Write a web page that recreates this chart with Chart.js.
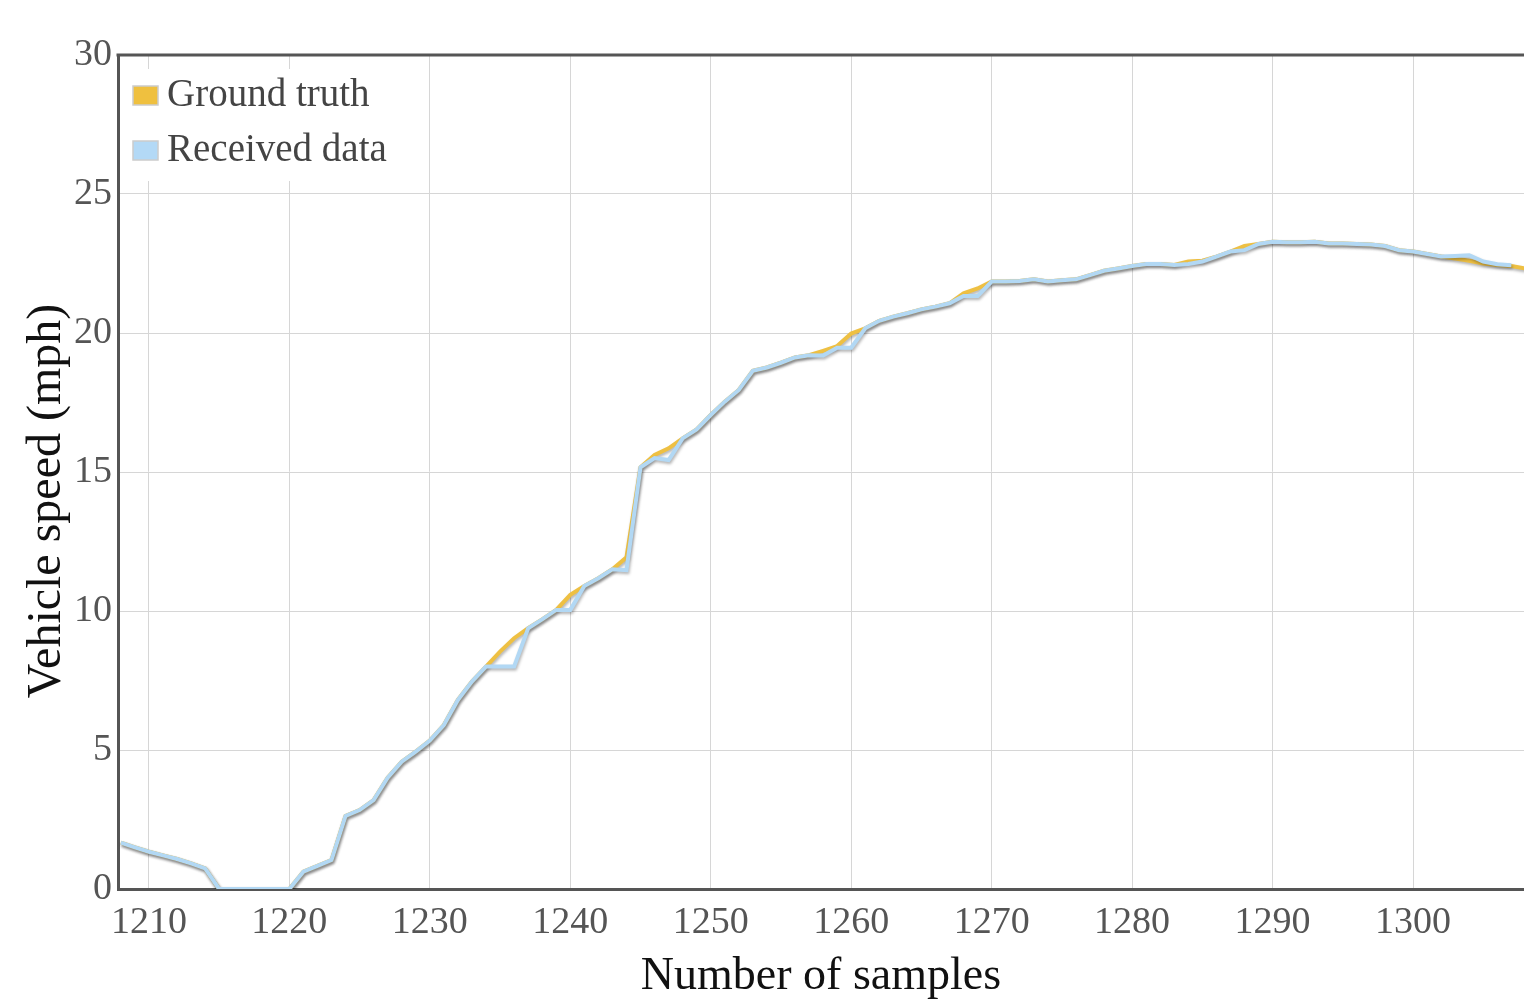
<!DOCTYPE html>
<html>
<head>
<meta charset="utf-8">
<script src="https://cdn.jsdelivr.net/npm/chart.js@4.4.1/dist/chart.umd.min.js"></script>
<style>
  body { margin: 0; background: #fff; }
  #wrap { width: 1524px; height: 1005px; }
</style>
</head>
<body>
<div id="wrap"><canvas id="speedChart" width="1524" height="1005"></canvas></div>
<script>
// sample numbers on the x axis
const samples = [
  1208, 1209, 1210, 1211, 1212, 1213, 1214, 1215, 1216, 1217,
  1218, 1219, 1220, 1221, 1222, 1223, 1224, 1225, 1226, 1227,
  1228, 1229, 1230, 1231, 1232, 1233, 1234, 1235, 1236, 1237,
  1238, 1239, 1240, 1241, 1242, 1243, 1244, 1245, 1246, 1247,
  1248, 1249, 1250, 1251, 1252, 1253, 1254, 1255, 1256, 1257,
  1258, 1259, 1260, 1261, 1262, 1263, 1264, 1265, 1266, 1267,
  1268, 1269, 1270, 1271, 1272, 1273, 1274, 1275, 1276, 1277,
  1278, 1279, 1280, 1281, 1282, 1283, 1284, 1285, 1286, 1287,
  1288, 1289, 1290, 1291, 1292, 1293, 1294, 1295, 1296, 1297,
  1298, 1299, 1300, 1301, 1302, 1303, 1304, 1305, 1306, 1307,
  1308
];

// ground truth speed (mph)
const groundTruth = [
  1.67, 1.5, 1.34, 1.21, 1.08, 0.92, 0.74, 0, 0, 0,
  0, 0, 0, 0.62, 0.83, 1.04, 2.63, 2.84, 3.2, 4.0,
  4.58, 4.94, 5.34, 5.9, 6.8, 7.46, 8.0, 8.54, 9.02, 9.38,
  9.7, 10.04, 10.58, 10.9, 11.18, 11.5, 11.93, 15.17, 15.61, 15.85,
  16.21, 16.53, 17.05, 17.53, 17.95, 18.64, 18.76, 18.93, 19.12, 19.2,
  19.36, 19.53, 19.98, 20.17, 20.44, 20.59, 20.71, 20.85, 20.95, 21.07,
  21.43, 21.6, 21.85, 21.85, 21.87, 21.93, 21.85, 21.9, 21.93, 22.08,
  22.24, 22.32, 22.41, 22.48, 22.48, 22.45, 22.57, 22.6, 22.75, 22.93,
  23.13, 23.2, 23.28, 23.26, 23.26, 23.28, 23.22, 23.22, 23.2, 23.18,
  23.13, 22.98, 22.93, 22.84, 22.75, 22.68, 22.6, 22.5, 22.45, 22.41,
  22.32
];

// received speed (mph)
const receivedData = [
  1.67, 1.5, 1.34, 1.21, 1.08, 0.92, 0.74, 0, 0, 0,
  0, 0, 0, 0.62, 0.83, 1.04, 2.63, 2.84, 3.2, 4.0,
  4.58, 4.94, 5.34, 5.9, 6.8, 7.46, 8.0, 8.0, 8.0, 9.38,
  9.7, 10.04, 10.04, 10.9, 11.18, 11.5, 11.47, 15.17, 15.5, 15.43,
  16.21, 16.53, 17.05, 17.53, 17.95, 18.64, 18.76, 18.93, 19.12, 19.2,
  19.19, 19.47, 19.47, 20.17, 20.44, 20.59, 20.71, 20.85, 20.95, 21.07,
  21.33, 21.33, 21.85, 21.85, 21.87, 21.93, 21.85, 21.9, 21.93, 22.08,
  22.24, 22.32, 22.41, 22.48, 22.48, 22.45, 22.48, 22.57, 22.75, 22.93,
  22.98, 23.2, 23.28, 23.26, 23.26, 23.28, 23.22, 23.22, 23.2, 23.18,
  23.13, 22.98, 22.93, 22.84, 22.75, 22.77, 22.8, 22.57, 22.47, 22.44,
  null
];

const yTicks = [0, 5, 10, 15, 20, 25, 30];
const xTicks = [1210, 1220, 1230, 1240, 1250, 1260, 1270, 1280, 1290, 1300];
const yTitle = "Vehicle speed (mph)";

const serif = "'Liberation Serif', 'Times New Roman', serif";

// turn arrays into points for the linear x scale
function toPoints(values) {
  const pts = [];
  for (let i = 0; i < samples.length; i++) {
    if (values[i] !== null) pts.push({ x: samples[i], y: values[i] });
  }
  return pts;
}

// soft grey shadow under each line
const lineShadow = {
  id: "lineShadow",
  beforeDatasetDraw(chart) {
    const ctx = chart.ctx;
    ctx.save();
    ctx.shadowColor = "rgba(0, 0, 0, 0.3)";
    ctx.shadowBlur = 3;
    ctx.shadowOffsetX = 1;
    ctx.shadowOffsetY = 2;
  },
  afterDatasetDraw(chart) {
    chart.ctx.restore();
  },
};

// top frame line, y title and the legend box in the upper left corner
const frameAndLegend = {
  id: "frameAndLegend",
  afterDraw(chart) {
    const ctx = chart.ctx;
    const area = chart.chartArea;
    ctx.save();
    ctx.strokeStyle = "#555";
    ctx.lineWidth = 3;
    ctx.beginPath();
    ctx.moveTo(area.left - 1.5, area.top);
    ctx.lineTo(area.right, area.top);
    ctx.stroke();

    // y axis title (sits a bit below the middle in the original)
    ctx.save();
    ctx.translate(47, 501);
    ctx.rotate(-Math.PI / 2);
    ctx.fillStyle = "#111";
    ctx.font = "48px " + serif;
    ctx.textAlign = "center";
    ctx.textBaseline = "middle";
    ctx.fillText(yTitle, 0, 0);
    ctx.restore();

    // legend
    ctx.fillStyle = "#fff";
    ctx.fillRect(area.left + 10, area.top + 14, 265, 112);
    const items = chart.data.datasets;
    for (let i = 0; i < items.length; i++) {
      const cy = area.top + 40 + i * 55;
      ctx.fillStyle = items[i].legendColor;
      ctx.fillRect(area.left + 15, cy - 9, 25, 19);
      ctx.strokeStyle = "#ccc";
      ctx.lineWidth = 1.5;
      ctx.strokeRect(area.left + 15, cy - 9, 25, 19);
      ctx.fillStyle = "#444";
      ctx.font = "39px " + serif;
      ctx.textBaseline = "middle";
      ctx.textAlign = "left";
      ctx.fillText(items[i].label, area.left + 49, cy + 1);
    }
    ctx.restore();
  },
};

const ctx = document.getElementById("speedChart").getContext("2d");
const chart = new Chart(ctx, {
  type: "line",
  data: {
    datasets: [
      {
        label: "Ground truth",
        data: toPoints(groundTruth),
        borderColor: "#eec043",
        legendColor: "#efc03f",
        borderWidth: 4,
        pointRadius: 0,
        tension: 0,
        order: 1,
      },
      {
        label: "Received data",
        data: toPoints(receivedData),
        borderColor: "#b2d8f4",
        legendColor: "#b3d9f6",
        borderWidth: 4,
        pointRadius: 0,
        tension: 0,
        order: 0,
      },
    ],
  },
  options: {
    responsive: false,
    animation: false,
    layout: { padding: { top: 55, right: 0, left: 0, bottom: 0 } },
    plugins: {
      legend: { display: false },
      tooltip: { enabled: false },
    },
    scales: {
      x: {
        type: "linear",
        min: 1207.8,
        max: 1307.9,
        afterBuildTicks(scale) {
          scale.ticks = xTicks.map((v) => ({ value: v }));
        },
        afterFit(scale) {
          scale.height = 116;
        },
        ticks: {
          color: "#555",
          font: { family: serif, size: 38 },
          padding: 11,
          maxRotation: 0,
          callback: (v) => String(v),
        },
        grid: { color: "#d6d6d6", lineWidth: 1, drawTicks: false },
        border: { color: "#555", width: 3 },
        title: {
          display: true,
          text: "Number of samples",
          color: "#111",
          font: { family: serif, size: 46 },
          padding: { top: 0, bottom: 0 },
        },
      },
      y: {
        min: 0,
        max: 30,
        afterBuildTicks(scale) {
          scale.ticks = yTicks.map((v) => ({ value: v }));
        },
        afterFit(scale) {
          scale.width = 118;
        },
        ticks: {
          color: "#555",
          font: { family: serif, size: 38 },
          padding: 6,
        },
        grid: { color: "#d6d6d6", lineWidth: 1, drawTicks: false },
        border: { color: "#555", width: 3 },
      },
    },
  },
  plugins: [lineShadow, frameAndLegend],
});
</script>
</body>
</html>
